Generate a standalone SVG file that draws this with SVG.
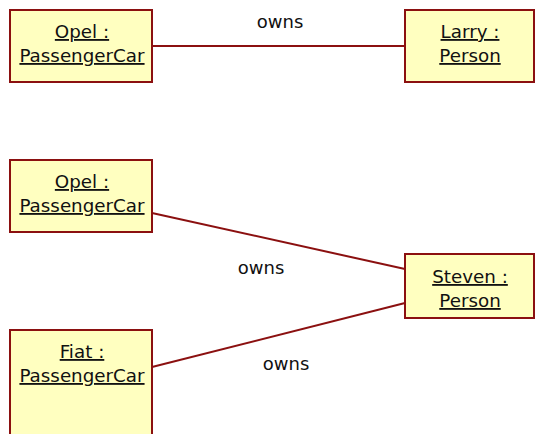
<svg xmlns="http://www.w3.org/2000/svg" width="536" height="434" viewBox="0 0 536 434">
  <style>
    .box { fill: #ffffc0; stroke: #8b1010; stroke-width: 2; }
    .name { font-family: "DejaVu Sans", sans-serif; font-size: 18.3px; fill: #111111; text-anchor: middle; text-decoration: underline; }
    .link { stroke: #8b1010; stroke-width: 2; fill: none; }
    .label { font-family: "DejaVu Sans", sans-serif; font-size: 18px; fill: #111111; text-anchor: middle; }
  </style>
  <rect width="536" height="434" fill="#ffffff"/>

  <g id="connectors">
    <line class="link" x1="152" y1="46" x2="405" y2="46"/>
    <line class="link" x1="152" y1="213" x2="405" y2="269"/>
    <line class="link" x1="152" y1="367" x2="405" y2="303"/>
    <text class="label" x="280" y="28">owns</text>
    <text class="label" x="261" y="274">owns</text>
    <text class="label" x="286" y="370">owns</text>
  </g>

  <g id="opel1">
    <rect class="box" x="10" y="10" width="142" height="72"/>
    <text class="name" x="82" y="38">Opel :</text>
    <text class="name" x="82" y="62">PassengerCar</text>
  </g>

  <g id="larry">
    <rect class="box" x="405" y="10" width="129" height="72"/>
    <text class="name" x="470" y="38">Larry :</text>
    <text class="name" x="470" y="62">Person</text>
  </g>

  <g id="opel2">
    <rect class="box" x="10" y="160" width="142" height="72"/>
    <text class="name" x="82" y="188">Opel :</text>
    <text class="name" x="82" y="212">PassengerCar</text>
  </g>

  <g id="steven">
    <rect class="box" x="405" y="254" width="129" height="64"/>
    <text class="name" x="470" y="283">Steven :</text>
    <text class="name" x="470" y="307">Person</text>
  </g>

  <g id="fiat">
    <rect class="box" x="10" y="330" width="142" height="110"/>
    <text class="name" x="82" y="358">Fiat :</text>
    <text class="name" x="82" y="382">PassengerCar</text>
  </g>
</svg>
